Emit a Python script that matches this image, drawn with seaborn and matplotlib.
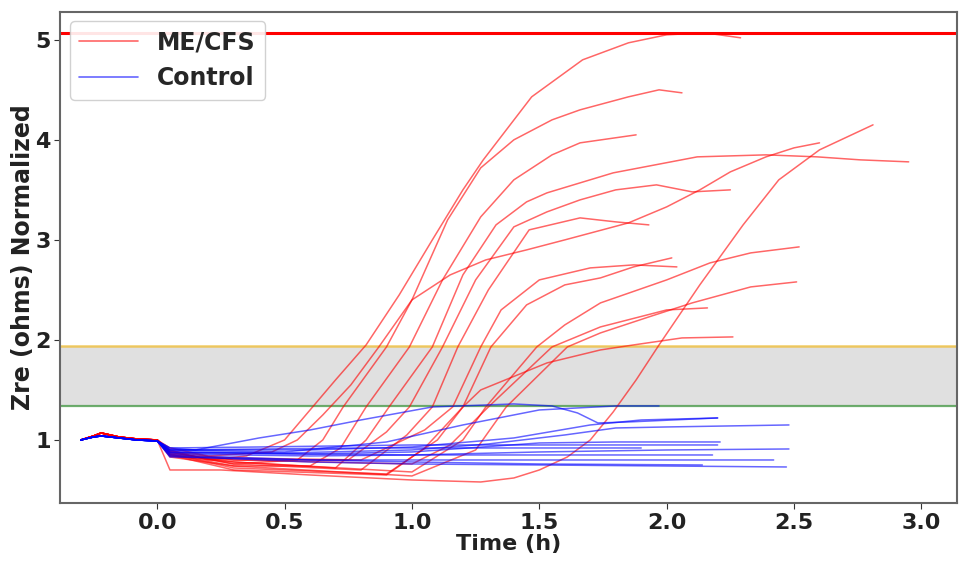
import matplotlib
matplotlib.use("Agg")
import matplotlib.pyplot as plt
from matplotlib.lines import Line2D
import pandas as pd
import seaborn as sns

sns.set_style("white")
plt.rcParams["font.family"] = ["DejaVu Sans"]
plt.rcParams["font.weight"] = "bold"

# shared baseline before t=0
pre_t = [-0.30, -0.25, -0.22, -0.15, -0.08, 0.00]
pre_red = [1.00, 1.04, 1.07, 1.03, 1.01, 1.00]
pre_blue = [1.00, 1.03, 1.04, 1.02, 1.00, 0.99]

# ME/CFS curves
red_t = [
    [0.05, 0.2, 0.35, 0.5, 0.6, 0.7, 0.82, 0.95, 1.08, 1.2, 1.28, 1.47, 1.67, 1.85, 2.0, 2.15, 2.29],
    [0.05, 0.3, 0.55, 0.65, 0.73, 0.90, 1.00, 1.14, 1.27, 1.40, 1.55, 1.66, 1.85, 1.97, 2.06],
    [0.05, 0.3, 0.6, 0.72, 0.82, 0.99, 1.12, 1.27, 1.40, 1.55, 1.66, 1.88],
    [0.05, 0.3, 0.7, 0.82, 0.91, 1.08, 1.20, 1.33, 1.45, 1.53, 1.79, 2.12, 2.39, 2.59, 2.76, 2.95],
    [0.05, 0.2, 0.45, 0.55, 0.65, 0.76, 0.87, 1.00, 1.15, 1.29, 1.45, 1.60, 1.85, 2.00, 2.13, 2.25, 2.39, 2.50, 2.60],
    [0.05, 0.3, 0.75, 0.90, 0.99, 1.12, 1.25, 1.40, 1.53, 1.66, 1.80, 1.96, 2.10, 2.25],
    [0.05, 0.3, 0.80, 0.98, 1.08, 1.18, 1.30, 1.46, 1.66, 1.80, 1.93],
    [0.05, 0.3, 0.80, 1.05, 1.16, 1.27, 1.35, 1.50, 1.70, 1.87, 2.04],
    [0.05, 0.3, 0.90, 1.10, 1.20, 1.31, 1.45, 1.60, 1.74, 1.87, 2.02],
    [0.05, 0.3, 1.00, 1.20, 1.29, 1.49, 1.60, 1.74, 2.00, 2.17, 2.33, 2.52],
    [0.05, 0.3, 1.00, 1.25, 1.37, 1.61, 1.74, 1.93, 2.10, 2.33, 2.51],
    [0.05, 0.3, 1.00, 1.15, 1.30, 1.55, 1.74, 2.00, 2.16],
    [0.05, 0.3, 0.90, 1.05, 1.20, 1.27, 1.53, 1.74, 1.87, 2.06, 2.26],
    [0.05, 0.25, 0.60, 1.00, 1.27, 1.40, 1.50, 1.61, 1.70, 1.79, 1.88, 1.97, 2.13, 2.30, 2.44, 2.60, 2.81],
]
red_z = [
    [0.90, 0.80, 0.84, 1.00, 1.30, 1.60, 1.95, 2.45, 3.00, 3.50, 3.80, 4.43, 4.80, 4.97, 5.05, 5.07, 5.02],
    [0.88, 0.76, 0.80, 1.00, 1.33, 1.93, 2.40, 3.20, 3.72, 4.00, 4.20, 4.30, 4.43, 4.50, 4.47],
    [0.86, 0.74, 0.74, 0.92, 1.33, 1.93, 2.60, 3.23, 3.60, 3.85, 3.97, 4.05],
    [0.87, 0.78, 0.72, 1.00, 1.33, 1.93, 2.65, 3.15, 3.38, 3.47, 3.67, 3.83, 3.85, 3.83, 3.80, 3.78],
    [0.92, 0.84, 0.88, 1.00, 1.25, 1.55, 1.93, 2.40, 2.65, 2.80, 2.90, 3.00, 3.17, 3.33, 3.50, 3.68, 3.83, 3.92, 3.97],
    [0.89, 0.80, 0.80, 1.08, 1.33, 1.93, 2.60, 3.13, 3.28, 3.40, 3.50, 3.55, 3.48, 3.50],
    [0.88, 0.76, 0.70, 1.05, 1.33, 1.93, 2.50, 3.10, 3.22, 3.18, 3.15],
    [0.85, 0.82, 0.80, 1.10, 1.33, 1.93, 2.30, 2.60, 2.72, 2.75, 2.73],
    [0.86, 0.72, 0.66, 1.00, 1.33, 1.93, 2.35, 2.55, 2.62, 2.73, 2.82],
    [0.84, 0.78, 0.68, 1.00, 1.33, 1.93, 2.15, 2.37, 2.60, 2.77, 2.87, 2.93],
    [0.83, 0.74, 0.64, 0.90, 1.33, 1.93, 2.07, 2.23, 2.37, 2.53, 2.58],
    [0.84, 0.80, 0.76, 0.95, 1.33, 1.93, 2.13, 2.30, 2.32],
    [0.85, 0.70, 0.65, 0.92, 1.33, 1.50, 1.77, 1.90, 1.95, 2.02, 2.03],
    [0.70, 0.70, 0.65, 0.60, 0.58, 0.62, 0.70, 0.83, 1.00, 1.28, 1.60, 1.95, 2.55, 3.15, 3.60, 3.90, 4.15],
]

# Control curves
blue_t = [
    [0.05, 0.15, 0.40, 0.60, 0.80, 1.08, 1.40, 1.55, 1.65, 1.73, 1.85, 2.20],
    [0.05, 0.50, 0.90, 1.20, 1.50, 1.80, 1.97],
    [0.05, 0.50, 1.00, 1.30, 1.60, 1.80, 2.00, 2.48],
    [0.05, 0.60, 1.00, 1.50, 1.80, 2.21],
    [0.05, 0.60, 1.00, 1.50, 2.00, 2.48],
    [0.05, 0.60, 1.00, 1.50, 2.42],
    [0.05, 0.60, 1.00, 1.50, 2.47],
    [0.05, 0.60, 1.00, 1.50, 2.14],
    [0.05, 0.60, 1.00, 1.40, 1.70, 1.90, 2.20],
    [0.05, 0.80, 1.30, 1.90],
    [0.05, 1.00, 2.18],
    [0.05, 0.40, 1.00, 1.50, 2.20],
]
blue_z = [
    [0.92, 0.90, 1.02, 1.10, 1.20, 1.33, 1.36, 1.34, 1.27, 1.17, 1.18, 1.22],
    [0.90, 0.88, 0.98, 1.15, 1.30, 1.34, 1.34],
    [0.88, 0.87, 0.90, 0.96, 1.05, 1.12, 1.13, 1.15],
    [0.88, 0.86, 0.88, 0.97, 0.98, 0.98],
    [0.86, 0.84, 0.85, 0.88, 0.90, 0.91],
    [0.85, 0.80, 0.80, 0.80, 0.80],
    [0.84, 0.78, 0.76, 0.75, 0.73],
    [0.83, 0.80, 0.78, 0.76, 0.75],
    [0.90, 0.90, 0.93, 1.02, 1.15, 1.20, 1.22],
    [0.90, 0.92, 0.92, 0.92],
    [0.87, 0.85, 0.85],
    [0.92, 0.93, 0.95, 0.95, 0.95],
]

# reference levels
top_level = 5.07
upper_level = 1.94
lower_level = 1.34

rows = []
for i, (t, z) in enumerate(zip(red_t, red_z)):
    for tt, zz in zip(pre_t + t, pre_red + z):
        rows.append(("ME/CFS", f"r{i}", tt, zz))
for i, (t, z) in enumerate(zip(blue_t, blue_z)):
    for tt, zz in zip(pre_t + t, pre_blue + z):
        rows.append(("Control", f"b{i}", tt, zz))
df = pd.DataFrame(rows, columns=["group", "curve", "time", "zre"])

fig = plt.figure(figsize=(9.59, 5.62), dpi=100)
ax = fig.add_axes([0.063, 0.105, 0.935, 0.874])

ax.axhspan(lower_level, upper_level, color="#d9d9d9", alpha=0.8, lw=0)
ax.axhline(top_level, color="red", lw=2.2)
ax.axhline(upper_level, color="#f0c040", lw=1.8, alpha=0.8)
ax.axhline(lower_level, color="#4a9a4a", lw=1.6, alpha=0.8)

sns.lineplot(data=df, x="time", y="zre", hue="group", units="curve",
             estimator=None, sort=False, lw=1.1, alpha=0.6, legend=False,
             palette={"ME/CFS": "red", "Control": "blue"}, ax=ax)

ax.set_xlim(-0.38, 3.14)
ax.set_ylim(0.37, 5.28)
ax.set_xticks([0.0, 0.5, 1.0, 1.5, 2.0, 2.5, 3.0])
ax.set_yticks([1, 2, 3, 4, 5])
ax.tick_params(labelsize=16, length=4, pad=3, left=True, bottom=True, colors="#333333")
ax.tick_params(labelcolor="#222222")
for lab in ax.get_xticklabels() + ax.get_yticklabels():
    lab.set_fontweight("bold")
ax.set_xlabel("Time (h)", fontsize=16, fontweight="bold", labelpad=1, color="#222222")
ax.set_ylabel("Zre (ohms) Normalized", fontsize=17, fontweight="bold", labelpad=0, color="#222222")
for s in ax.spines.values():
    s.set_color("#666666")
    s.set_linewidth(1.5)

handles = [Line2D([], [], color="red", lw=1.2, alpha=0.6),
           Line2D([], [], color="blue", lw=1.2, alpha=0.6)]
ax.legend(handles, ["ME/CFS", "Control"], loc="upper left", handlelength=2.5,
          prop={"size": 17, "weight": "bold"}, framealpha=0.9,
          borderaxespad=0.4)

fig.savefig("out.png", dpi=100)
